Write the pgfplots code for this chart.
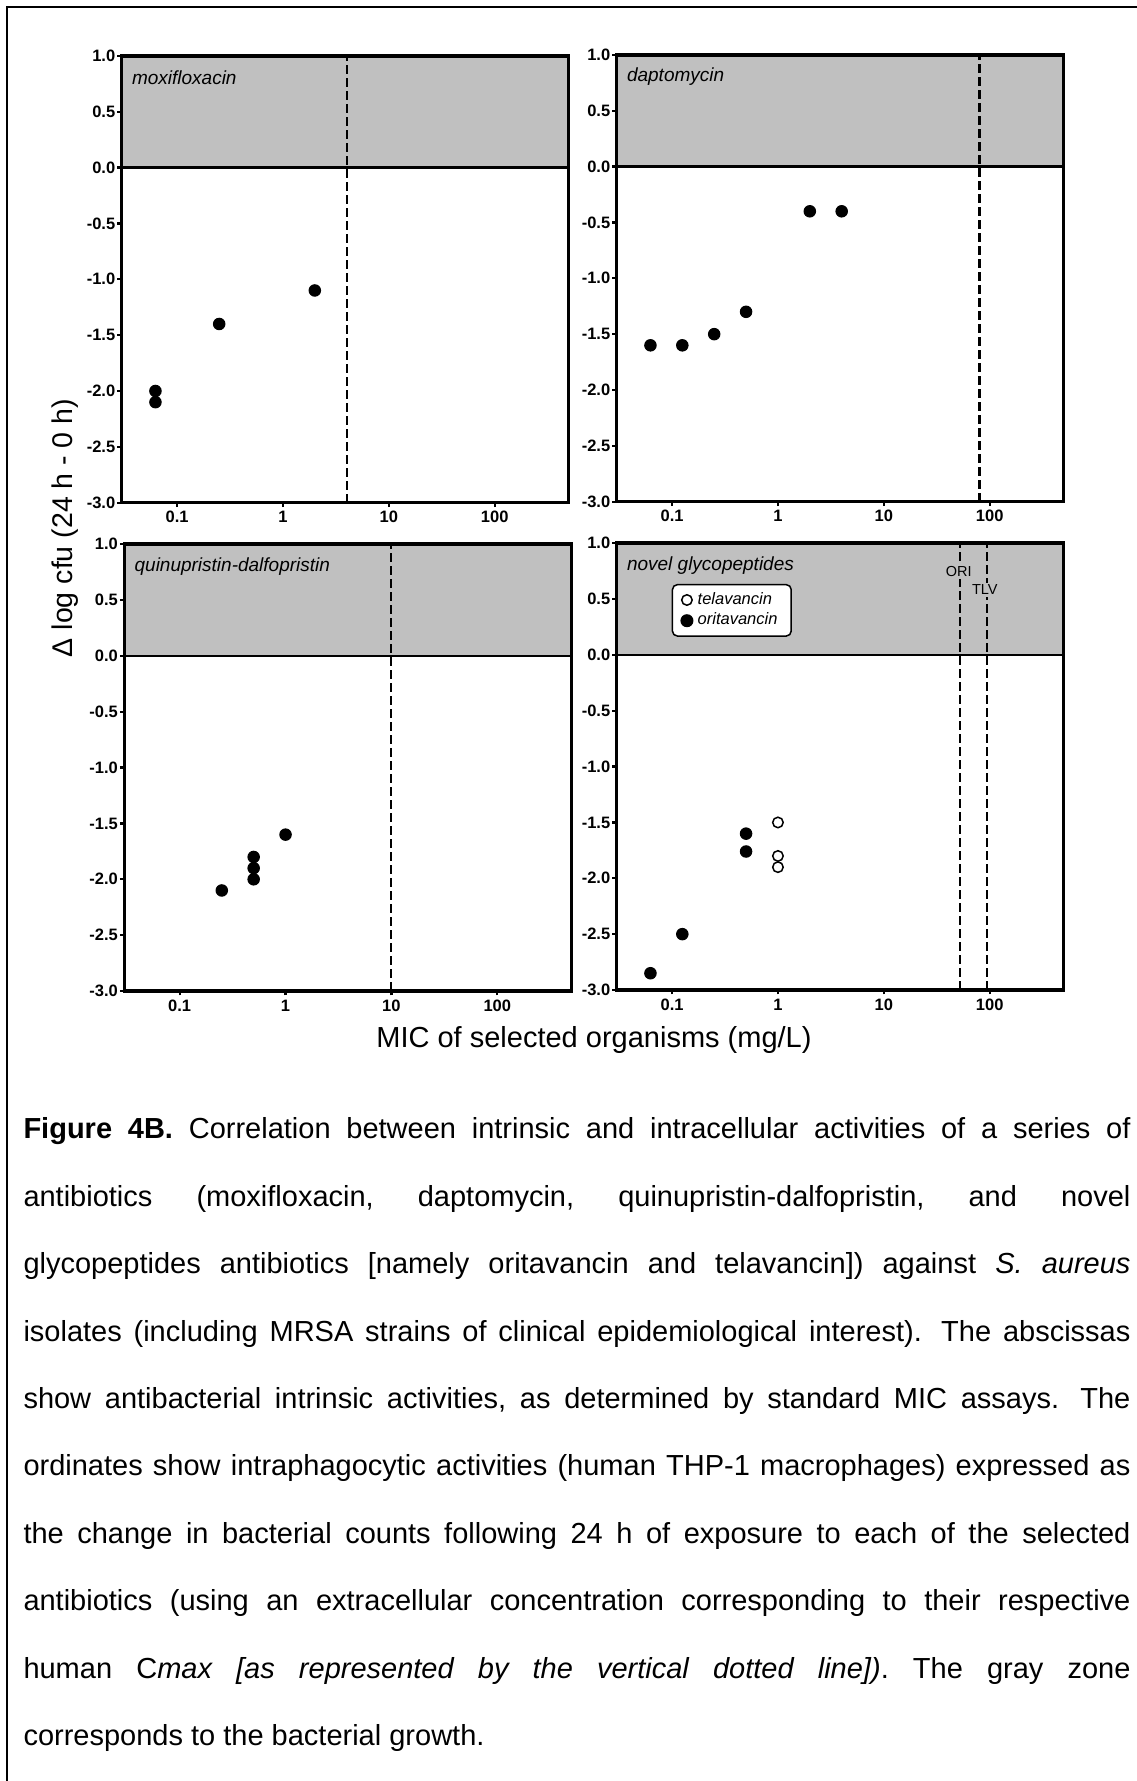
\documentclass[border=0pt]{standalone}
\usepackage{fontspec}
\setmainfont{Liberation Sans}
\usepackage{pgfplots}
\pgfplotsset{compat=1.18}
\definecolor{zone}{RGB}{192,192,192}
\frenchspacing
\newcommand{\zonefill}{%
  \fill[zone] (axis cs:0.03,0) rectangle (axis cs:500,1);
  \draw[line width=1pt] (axis cs:0.03,0) -- (axis cs:500,0);
}
\newcommand{\cmaxline}[1]{%
  \draw[line width=0.85pt, dash pattern=on 3.4pt off 1.8pt] (axis cs:#1,-3) -- (axis cs:#1,1);
}
\newcommand{\ptitle}[1]{%
  \node[anchor=west, inner sep=0pt, font=\itshape\fontsize{7.6}{9}\selectfont] at (axis description cs:0.022,0.951) {#1};
}
\begin{document}
\begin{tikzpicture}
\useasboundingbox (0,0) rectangle (454.8pt,712.4pt);
\draw[line width=0.8pt] (2.8pt,-4pt) -- (2.8pt,709.48pt) -- (460pt,709.48pt);

\begin{semilogxaxis}[at={(48.68pt,511.32pt)},
    scale only axis, width=178.8pt, height=178.7pt, anchor=south west,
    xmin=0.03, xmax=500, ymin=-3, ymax=1,
    xtick={0.1,1,10,100}, xticklabels={0.1,1,10,100},
    ytick={-3,-2.5,-2,-1.5,-1,-0.5,0,0.5,1},
    yticklabels={-3.0,-2.5,-2.0,-1.5,-1.0,-0.5,0.0,0.5,1.0},
    minor tick style={draw=none}, tick align=outside, xtick pos=bottom, ytick pos=left,
    major tick length=1.8pt, tick style={line width=0.9pt, black},
    axis line style={line width=1.4pt},
    tick label style={font=\bfseries\fontsize{6.6}{7}\selectfont},
    yticklabel style={inner sep=0.6pt}, xticklabel style={inner sep=1.5pt},
    axis on top]
\zonefill
\cmaxline{4}
\addplot[only marks, mark=*, mark size=2.3pt, mark options={fill=black, draw=black}] coordinates {(0.0625,-2.0) (0.0625,-2.1) (0.25,-1.4) (2,-1.1)};
\ptitle{moxifloxacin}
\end{semilogxaxis}

\begin{semilogxaxis}[at={(246.68pt,511.72pt)},
    scale only axis, width=178.8pt, height=178.7pt, anchor=south west,
    xmin=0.03, xmax=500, ymin=-3, ymax=1,
    xtick={0.1,1,10,100}, xticklabels={0.1,1,10,100},
    ytick={-3,-2.5,-2,-1.5,-1,-0.5,0,0.5,1},
    yticklabels={-3.0,-2.5,-2.0,-1.5,-1.0,-0.5,0.0,0.5,1.0},
    minor tick style={draw=none}, tick align=outside, xtick pos=bottom, ytick pos=left,
    major tick length=1.8pt, tick style={line width=0.9pt, black},
    axis line style={line width=1.4pt},
    tick label style={font=\bfseries\fontsize{6.6}{7}\selectfont},
    yticklabel style={inner sep=0.6pt}, xticklabel style={inner sep=1.5pt},
    axis on top]
\zonefill
\cmaxline{80}
\addplot[only marks, mark=*, mark size=2.3pt, mark options={fill=black, draw=black}] coordinates {(0.0625,-1.6) (0.125,-1.6) (0.25,-1.5) (0.5,-1.3) (2,-0.4) (4,-0.4)};
\ptitle{daptomycin}
\end{semilogxaxis}

\begin{semilogxaxis}[at={(49.72pt,316pt)},
    scale only axis, width=178.8pt, height=178.7pt, anchor=south west,
    xmin=0.03, xmax=500, ymin=-3, ymax=1,
    xtick={0.1,1,10,100}, xticklabels={0.1,1,10,100},
    ytick={-3,-2.5,-2,-1.5,-1,-0.5,0,0.5,1},
    yticklabels={-3.0,-2.5,-2.0,-1.5,-1.0,-0.5,0.0,0.5,1.0},
    minor tick style={draw=none}, tick align=outside, xtick pos=bottom, ytick pos=left,
    major tick length=1.8pt, tick style={line width=0.9pt, black},
    axis line style={line width=1.4pt},
    tick label style={font=\bfseries\fontsize{6.6}{7}\selectfont},
    yticklabel style={inner sep=0.6pt}, xticklabel style={inner sep=1.5pt},
    axis on top]
\zonefill
\cmaxline{10}
\addplot[only marks, mark=*, mark size=2.3pt, mark options={fill=black, draw=black}] coordinates {(0.25,-2.1) (0.5,-1.8) (0.5,-1.9) (0.5,-2.0) (1,-1.6)};
\ptitle{quinupristin-dalfopristin}
\end{semilogxaxis}

\begin{semilogxaxis}[at={(246.68pt,316.4pt)},
    scale only axis, width=178.8pt, height=178.7pt, anchor=south west,
    xmin=0.03, xmax=500, ymin=-3, ymax=1,
    xtick={0.1,1,10,100}, xticklabels={0.1,1,10,100},
    ytick={-3,-2.5,-2,-1.5,-1,-0.5,0,0.5,1},
    yticklabels={-3.0,-2.5,-2.0,-1.5,-1.0,-0.5,0.0,0.5,1.0},
    minor tick style={draw=none}, tick align=outside, xtick pos=bottom, ytick pos=left,
    major tick length=1.8pt, tick style={line width=0.9pt, black},
    axis line style={line width=1.4pt},
    tick label style={font=\bfseries\fontsize{6.6}{7}\selectfont},
    yticklabel style={inner sep=0.6pt}, xticklabel style={inner sep=1.5pt},
    axis on top,
    legend style={at={(0.123,0.909)}, anchor=north west,
      draw=black, line width=0.6pt, rounded corners=2pt, fill=white,
      font=\itshape\fontsize{6.6}{6.6}\selectfont, inner ysep=1pt, inner xsep=3.5pt, row sep=-2pt},
    legend cell align=left]
\zonefill
\cmaxline{52}
\cmaxline{95}
\addplot[only marks, mark=o, mark size=2.1pt, mark options={fill=white, draw=black, line width=0.6pt}] coordinates {(1,-1.5) (1,-1.8) (1,-1.9)};
\addlegendentry{telavancin}
\addplot[only marks, mark=*, mark size=2.3pt, mark options={fill=black, draw=black}] coordinates {(0.0625,-2.85) (0.125,-2.5) (0.5,-1.6) (0.5,-1.76)};
\addlegendentry{oritavancin}
\ptitle{novel glycopeptides}
\node[fill=zone, inner sep=0.8pt, font=\fontsize{5.8}{6}\selectfont] at (axis cs:51,0.746) {ORI};
\node[fill=zone, inner sep=0.8pt, font=\fontsize{5.8}{6}\selectfont] at (axis cs:90,0.582) {TLV};
\end{semilogxaxis}

\node[rotate=90, inner sep=0pt, font=\fontsize{11.4}{13}\selectfont] at (26pt,501.2pt) {Δ log cfu (24 h - 0 h)};
\node[inner sep=0pt, font=\fontsize{11.6}{13}\selectfont] at (237.6pt,296.4pt) {MIC of selected organisms (mg/L)};

\begin{scope}[every node/.style={anchor=base west, inner sep=0pt, font=\fontsize{11.6}{13}\selectfont}]
\node at (9.2pt,256.8pt) {\makebox[442.8pt][s]{\textbf{Figure 4B.} Correlation between intrinsic and intracellular activities of a series of}};
\node at (9.2pt,229.84pt) {\makebox[442.8pt][s]{antibiotics (moxifloxacin, daptomycin, quinupristin-dalfopristin, and novel}};
\node at (9.2pt,202.88pt) {\makebox[442.8pt][s]{glycopeptides antibiotics [namely oritavancin and telavancin]) against \textit{S. aureus}}};
\node at (9.2pt,175.92pt) {\makebox[442.8pt][s]{isolates (including MRSA strains of clinical epidemiological interest).\hspace{3pt} The abscissas}};
\node at (9.2pt,148.96pt) {\makebox[442.8pt][s]{show antibacterial intrinsic activities, as determined by standard MIC assays.\hspace{3pt} The}};
\node at (9.2pt,122.0pt) {\makebox[442.8pt][s]{ordinates show intraphagocytic activities (human THP-1 macrophages) expressed as}};
\node at (9.2pt,95.04pt) {\makebox[442.8pt][s]{the change in bacterial counts following 24 h of exposure to each of the selected}};
\node at (9.2pt,68.08pt) {\makebox[442.8pt][s]{antibiotics (using an extracellular concentration corresponding to their respective}};
\node at (9.2pt,41.12pt) {\makebox[442.8pt][s]{human C\textit{max [as represented by the vertical dotted line])}. The gray zone}};
\node at (9.2pt,14.16pt) {corresponds to the bacterial growth.};
\end{scope}
\end{tikzpicture}
\end{document}
